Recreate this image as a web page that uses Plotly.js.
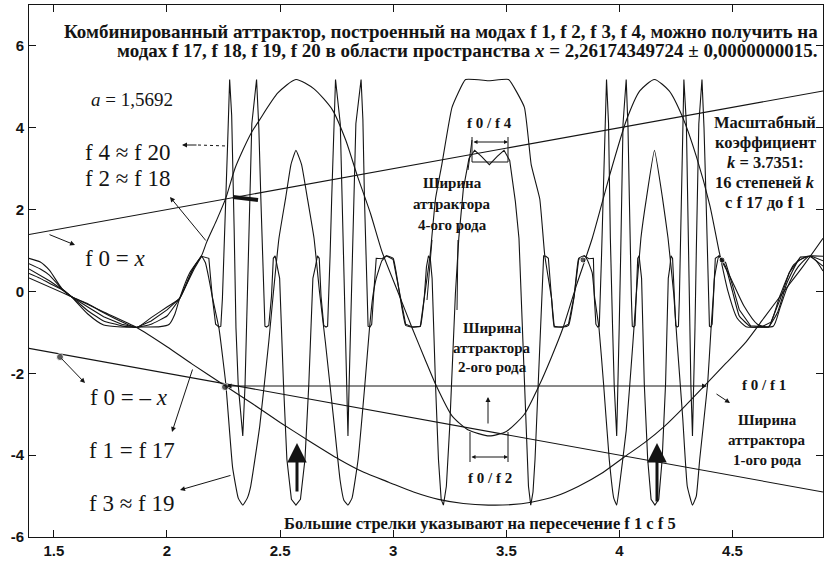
<!DOCTYPE html>
<html><head><meta charset="utf-8">
<script src="https://cdn.plot.ly/plotly-3.0.1.min.js"></script>
<style>html,body{margin:0;padding:0;background:#fff}#plot{width:826px;height:564px}</style>
</head><body><div id="plot"></div>
<script>
// ---- data ----
const xTicks = [1.5, 2, 2.5, 3, 3.5, 4, 4.5];
const yTicks = [-6, -4, -2, 0, 2, 4, 6];

const f0posX = [1.39, 4.9];
const f0posY = [1.39, 4.9];
const f0negX = [1.39, 4.9];
const f0negY = [-1.39, -4.9];

const f1X = [1.39,1.578,1.72,1.866,2.0,2.11,2.255,2.38,2.5,2.63,2.76,2.87,2.98,3.09,3.2,3.31,3.42,3.52,3.61,3.72,3.82,3.92,4.02,4.11,4.2,4.29,4.38,4.47,4.56,4.64,4.72,4.81,4.9];
const f1Y = [0.33,-0.13,-0.5,-0.88,-1.35,-1.77,-2.3,-2.75,-3.2,-3.66,-4.1,-4.42,-4.66,-4.9,-5.08,-5.18,-5.22,-5.21,-5.15,-5.0,-4.76,-4.45,-4.05,-3.7,-3.29,-2.8,-2.28,-1.76,-1.23,-0.64,-0.05,0.6,1.3];

const f2X = [1.39,1.44,1.48,1.534,1.578,1.65,1.72,1.80,1.90,1.97,2.01,2.035,2.056,2.10,2.153,2.175,2.22,2.26,2.30,2.335,2.37,2.41,2.49,2.57,2.65,2.73,2.79,2.84,2.90,2.95,3.02,3.085,3.14,3.19,3.26,3.33,3.425,3.50,3.58,3.645,3.70,3.75,3.81,3.88,3.96,4.03,4.09,4.155,4.22,4.28,4.34,4.40,4.44,4.48,4.52,4.56,4.62,4.68,4.71,4.74,4.79,4.84,4.87,4.9];
const f2Y = [0.81,0.72,0.52,0.08,-0.13,-0.55,-0.82,-0.87,-0.87,-0.86,-0.8,-0.55,-0.17,0.45,0.88,1.2,1.75,2.28,3.0,3.45,3.85,4.2,4.85,5.18,4.95,4.45,3.7,2.85,1.9,0.98,0.0,-0.91,-1.65,-2.3,-3.04,-3.38,-3.53,-3.42,-3.0,-2.3,-1.6,-0.9,0.15,1.3,2.9,4.17,4.9,5.18,4.9,4.25,3.3,2.1,1.0,0.0,-0.65,-0.86,-0.87,-0.85,-0.4,0.07,0.6,0.86,0.75,0.5];

const f3X = [1.39,1.44,1.48,1.534,1.578,1.65,1.72,1.80,1.866,1.93,2.0,2.056,2.11,2.153,2.17,2.185,2.20,2.23,2.26,2.29,2.315,2.335,2.355,2.37,2.41,2.45,2.47,2.495,2.525,2.548,2.57,2.595,2.62,2.65,2.675,2.70,2.74,2.765,2.782,2.80,2.818,2.845,2.875,2.895,2.91,2.925,2.95,2.97,3.0,3.03,3.055,3.085,3.12,3.137,3.163,3.187,3.215,3.26,3.32,3.425,3.51,3.58,3.61,3.648,3.67,3.70,3.712,3.75,3.775,3.80,3.82,3.845,3.86,3.88,3.89,3.91,3.93,3.955,3.975,3.988,4.0,4.03,4.06,4.075,4.095,4.12,4.155,4.19,4.215,4.24,4.255,4.28,4.30,4.323,4.34,4.355,4.39,4.405,4.415,4.42,4.44,4.47,4.50,4.53,4.58,4.66,4.70,4.74,4.79,4.84,4.9];
const f3Y = [0.68,0.55,0.4,0.07,-0.13,-0.47,-0.72,-0.84,-0.88,-0.8,-0.6,-0.17,0.5,0.86,0.7,0.32,-0.12,-0.91,-2.26,-4.3,-5.05,-5.22,-5.05,-4.76,-3.29,-1.23,-0.05,1.3,2.3,3.1,3.45,3.1,2.3,1.3,-0.05,-1.23,-3.29,-4.6,-5.1,-5.22,-5.05,-4.1,-2.26,-0.91,-0.12,0.32,0.75,0.87,0.81,-0.12,-0.83,-0.87,-0.85,-0.17,0.88,2.26,3.1,4.5,5.18,5.15,5.18,4.5,3.1,2.26,0.88,-0.17,-0.85,-0.87,-0.83,-0.12,0.81,0.87,0.75,0.45,-0.12,-0.91,-2.26,-4.1,-5.05,-5.22,-4.76,-3.4,-1.23,-0.05,1.3,2.3,3.45,2.3,1.3,-0.05,-1.23,-3.1,-4.76,-5.22,-5.0,-4.1,-2.26,-0.91,-0.12,0.32,0.87,0.6,0.0,-0.6,-0.86,-0.86,-0.5,0.2,0.75,0.86,0.62];

const f4X = [1.39,1.44,1.48,1.534,1.578,1.65,1.72,1.80,1.866,1.93,2.0,2.056,2.12,2.153,
2.185,2.20,2.215,2.23,2.238,2.245,2.252,2.26,2.268,2.277,2.286,2.297,2.305,2.315,2.335,
2.345,2.352,2.36,2.375,2.396,2.406,2.415,2.422,2.428,2.433,2.44,2.45,2.462,2.47,2.478,2.487,2.498,2.515,2.53,2.55,2.57,
2.59,2.61,2.627,2.645,2.656,2.665,2.673,2.681,2.693,2.703,2.71,2.715,2.721,2.728,2.737,2.745,2.766,2.78,2.788,2.795,2.80,
2.805,2.812,2.82,2.835,2.858,2.866,2.873,2.879,2.884,2.889,2.897,2.905,2.913,2.925,2.95,2.97,
3.0,3.03,3.055,3.085,3.12,3.137,
3.147,3.156,3.164,3.172,3.178,3.187,3.20,3.212,3.222,3.235,3.25,3.265,3.275,3.29,3.31,3.335,3.36,3.39,3.425,3.46,3.49,
3.515,3.54,3.556,3.566,3.575,3.588,3.598,3.608,3.618,3.627,3.64,3.651,3.658,3.665,3.675,3.686,3.70,3.712,
3.75,3.775,3.80,3.82,3.845,3.865,3.885,
3.889,3.896,3.904,3.911,3.916,3.921,3.928,3.934,3.943,3.952,3.96,3.97,3.977,3.988,
3.994,3.999,4.006,4.016,4.03,4.038,4.044,4.048,4.053,4.057,4.063,4.069,4.075,4.081,4.087,4.093,4.098,4.11,4.125,4.14,4.157,
4.174,4.189,4.204,4.216,4.222,4.228,4.235,4.242,4.249,4.255,4.261,4.265,4.269,4.273,4.279,4.285,4.296,4.305,4.311,4.316,4.323,
4.329,4.334,4.34,4.351,4.365,4.374,4.383,4.389,4.394,4.398,4.404,4.41,4.416,4.424,4.44,
4.47,4.50,4.53,4.58,4.63,4.67,4.71,4.75,4.8,4.85,4.9];
const f4Y = [0.55,0.4,0.26,0.06,-0.13,-0.38,-0.62,-0.8,-0.88,-0.72,-0.45,-0.17,0.55,0.86,
0.81,-0.12,-0.8,-0.87,-0.85,-0.17,0.88,2.26,3.6,5.18,4.3,1.5,-0.9,-2.3,-3.53,
-2.3,-0.9,1.0,4.1,5.18,4.0,2.26,0.88,-0.17,-0.85,-0.87,-0.83,-0.12,0.81,0.87,0.6,0.32,-2.26,-4.1,-5.08,-5.22,
-5.08,-4.1,-2.26,0.32,0.6,0.87,0.81,-0.12,-0.83,-0.87,-0.85,-0.17,0.88,2.26,4.0,5.18,4.1,1.0,-0.9,-2.3,-3.53,
-2.3,-0.9,1.0,4.1,5.18,4.2,2.26,0.88,-0.17,-0.85,-0.87,-0.8,-0.12,0.81,0.8,0.87,
0.78,-0.05,-0.8,-0.87,-0.85,-0.17,
0.6,0.87,0.8,0.32,-0.91,-2.26,-4.1,-5.08,-5.22,-4.76,-3.29,-1.23,-0.05,1.3,2.5,3.25,3.45,3.3,3.1,3.3,3.45,
3.2,2.2,1.3,-0.05,-1.23,-3.29,-4.76,-5.22,-4.9,-4.1,-2.26,-0.91,0.32,0.87,0.86,0.81,-0.17,-0.87,
-0.87,-0.8,-0.1,0.78,0.87,0.8,0.81,
-0.12,-0.8,-0.87,-0.85,-0.17,0.88,2.26,3.6,5.18,4.1,1.3,-0.91,-2.3,-3.53,
-2.3,-0.9,1.0,4.1,5.18,4.0,2.26,0.88,-0.17,-0.85,-0.87,-0.83,-0.12,0.81,0.87,0.55,0.32,-2.26,-4.1,-5.08,-5.22,
-5.08,-4.1,-2.26,0.32,0.55,0.87,0.81,-0.12,-0.83,-0.87,-0.85,-0.17,0.88,2.26,4.0,5.18,4.1,1.0,-0.91,-2.3,-3.53,
-2.3,-0.91,1.0,4.1,5.18,4.0,2.26,0.88,-0.17,-0.85,-0.87,-0.8,-0.12,0.81,0.87,
0.7,0.15,-0.45,-0.84,-0.86,-0.75,-0.2,0.45,0.84,0.86,0.75];

const bundleLX = [1.39,1.44,1.48,1.534,1.578,1.65,1.72,1.80,1.866,1.93,2.0,2.056,2.12,2.153];
const bundleLY = [0.44,0.32,0.2,0.05,-0.13,-0.3,-0.52,-0.74,-0.88,-0.64,-0.38,-0.17,0.6,0.86];
const bundleRX = [4.44,4.49,4.55,4.61,4.66,4.71,4.77,4.83,4.9];
const bundleRY = [0.87,0.35,-0.35,-0.8,-0.86,-0.1,0.65,0.86,0.86];

const titleLine1 = "Комбинированный аттрактор, построенный на модах f 1, f 2, f 3, f 4, можно получить на";
const titleLine2 = "модах f 17, f 18, f 19, f 20 в области пространства <i>x</i> = 2,26174349724 ± 0,0000000015.";
const paramText = "<i>a</i> = 1,5692";
const curveLabels = ["f 4 ≈ f 20", "f 2 ≈ f 18", "f 0 = <i>x</i>", "f 0 = – <i>x</i>", "f 1 = f 17", "f 3 ≈ f 19"];
const width4Lines = ["Ширина", "аттрактора", "4-ого рода"];
const width2Lines = ["Ширина", "аттрактора", "2-ого рода"];
const width1Lines = ["Ширина", "аттрактора", "1-ого рода"];
const scaleLines = ["Масштабный", "коэффициент", "<i>k</i> = 3.7351:", "16 степеней <i>k</i>", "с f 17 до f 1"];
const bottomNote = "Большие стрелки указывают на пересечение f 1 с f 5";

// ---- layout helpers (pixel position -> axis value) ----
const xr = [1.39, 4.9], yr = [-6, 7];
const L = 29, T = 5, W = 794, H = 532;
const X = px => xr[0] + (px - L) / W * (xr[1] - xr[0]);
const Y = py => yr[1] - (py - T) / H * (yr[1] - yr[0]);
const INK = '#141414';
const serif = 'Liberation Serif, Times New Roman, serif';

function line(x, y, shape, sm) {
  return {x, y, type: 'scatter', mode: 'lines', hoverinfo: 'skip', showlegend: false,
          line: {color: INK, width: 1.1, shape: shape || 'linear', smoothing: sm || 0}};
}
const traces = [
  line(f0posX, f0posY), line(f0negX, f0negY),
  line(f1X, f1Y, 'spline', 0.6), line(f2X, f2Y, 'spline', 0.6),
  line(f3X, f3Y, 'spline', 0.35), line(f4X, f4Y),
  line(bundleLX, bundleLY, 'spline', 0.6), line(bundleRX, bundleRY, 'spline', 0.6),
  {x: [X(60), X(225), X(583), X(722)], y: [Y(357), Y(387), Y(260), Y(260)], type: 'scatter', mode: 'markers',
   marker: {color: INK, size: [7, 7, 6, 6]}, hoverinfo: 'skip', showlegend: false}
];

const ann = [];
function txt(t, px, py, size, anchor, bold) {
  ann.push({text: t, x: X(px), y: Y(py), xref: 'x', yref: 'y', showarrow: false,
            xanchor: anchor || 'center', yanchor: 'middle',
            font: {family: serif, size: size, color: INK, weight: bold ? 'bold' : 'normal'}});
}
function arr(tx, ty, hx, hy, w, head, size, side) {
  ann.push({text: '', x: X(hx), y: Y(hy), ax: X(tx), ay: Y(ty), xref: 'x', yref: 'y', axref: 'x', ayref: 'y',
            showarrow: true, arrowhead: head === undefined ? 2 : head, arrowsize: size || 1, arrowwidth: w || 1,
            arrowcolor: INK, arrowside: side || 'end', standoff: 0, startstandoff: 0});
}
txt(titleLine1, 820, 31, 19, 'right', true);
txt(titleLine2, 820, 50, 19, 'right', true);
txt(paramText, 132, 99, 19, 'center', false);
const labPos = [[83,152],[83,178],[83,258],[88,397],[87,450],[87,503]];
curveLabels.forEach((t,i) => txt(t, labPos[i][0], labPos[i][1], 23, 'left', false));
txt("f 0 / f 4", 489, 123, 15, 'center', true);
width4Lines.forEach((t,i) => txt(t, 452, 183 + i*21, 15, 'center', true));
width2Lines.forEach((t,i) => txt(t, 492, 328 + i*19.5, 15, 'center', true));
txt("f 0 / f 2", 490, 478, 15, 'center', true);
txt("f 0 / f 1", 764, 385, 15, 'center', true);
width1Lines.forEach((t,i) => txt(t, 767, 420 + i*20, 15, 'center', true));
scaleLines.forEach((t,i) => txt(t, 765, 122 + i*20, 16.5, 'center', true));
txt(bottomNote, 480, 523, 16.5, 'center', true);

// pointer arrows
arr(198, 145, 182, 145);
arr(207, 242, 170, 197);
arr(48, 234, 75, 245);
arr(60, 357, 85, 383);
arr(193, 368, 172, 432);
arr(232, 475, 180, 490);
arr(715, 393, 730, 403);
arr(488, 425, 488, 397);
// width arrows
arr(225, 386, 707, 386, 1, 2, 1, 'end+start');
arr(472, 142, 508, 142, 1, 2, 0.8, 'end+start');
arr(470, 457, 508, 457, 1, 2, 0.8, 'end+start');
// big arrows
arr(297, 493, 297, 443, 3, 2, 1.3);
arr(657, 503, 657, 443, 3, 2, 1.3);

function seg(x0, y0, x1, y1, dash, w) {
  return {type: 'line', xref: 'x', yref: 'y', x0: X(x0), y0: Y(y0), x1: X(x1), y1: Y(y1),
          line: {color: INK, width: w || 1, dash: dash || 'solid'}};
}
const shapes = [
  seg(198, 145, 227, 146, 'dot'),
  seg(472, 137, 472, 162), seg(508, 137, 508, 162), seg(472, 162, 508, 162),
  seg(470, 432, 470, 462), seg(508, 432, 508, 462),
  seg(468, 170, 472, 140),
  seg(432, 240, 427, 300), seg(458, 240, 457, 310),
  seg(233, 197, 258, 200, 'solid', 4)
];

const tickFont = {family: 'Liberation Sans Narrow, Liberation Sans, Arial, sans-serif', size: 15, color: INK, weight: 'bold'};
const layout = {
  width: 826, height: 564, margin: {l: L, r: 826 - L - W, t: T, b: 564 - T - H},
  paper_bgcolor: '#fff', plot_bgcolor: '#fff', showlegend: false,
  xaxis: {range: xr, tickvals: xTicks, ticktext: xTicks.map(String), ticks: 'inside', ticklen: 7, tickcolor: INK,
          showline: true, linecolor: INK, linewidth: 1, mirror: 'allticks', showgrid: false, zeroline: false,
          tickfont: tickFont},
  yaxis: {range: yr, tickvals: yTicks, ticktext: yTicks.map(String), ticks: 'inside', ticklen: 7, tickcolor: INK,
          showline: true, linecolor: INK, linewidth: 1, mirror: 'allticks', showgrid: false, zeroline: false,
          tickfont: tickFont, ticklabelstandoff: 1},
  annotations: ann, shapes: shapes
};
Plotly.newPlot('plot', traces, layout, {staticPlot: true, displayModeBar: false});
</script></body></html>
